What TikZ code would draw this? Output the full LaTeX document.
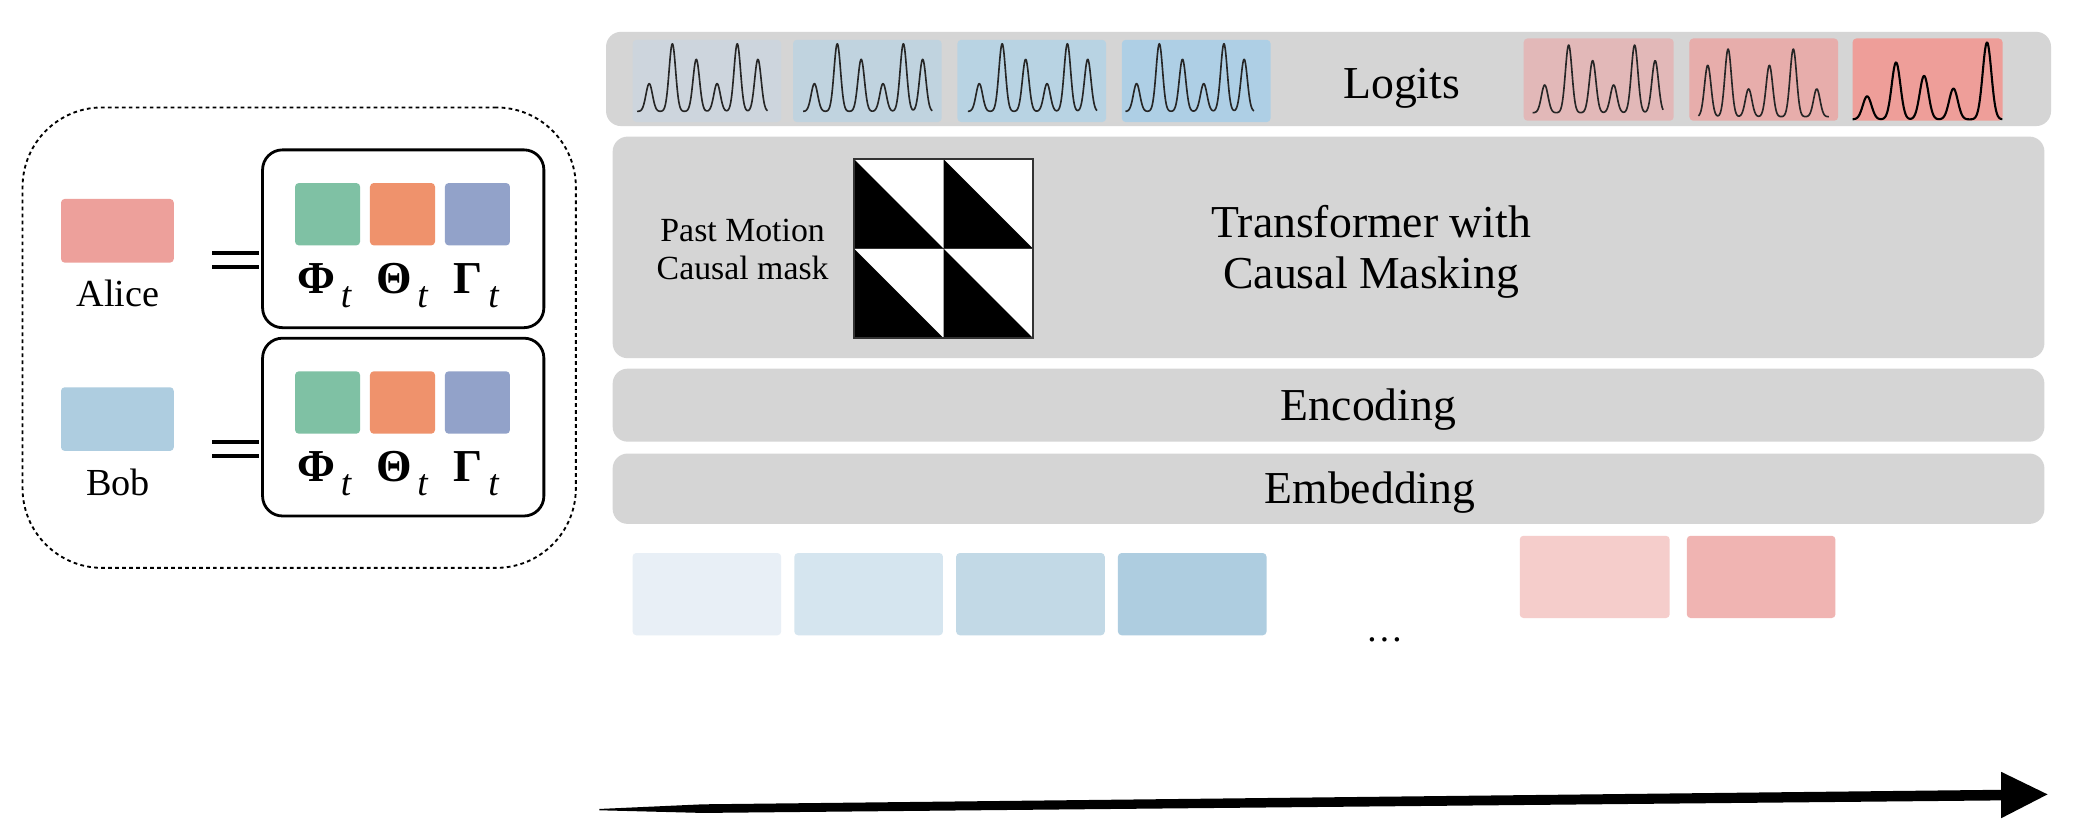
\documentclass[tikz,border=0pt]{standalone}
\usepackage{fontspec}
\setmainfont{Liberation Serif}
\definecolor{layergray}{HTML}{D5D5D5}
\definecolor{alicec}{HTML}{EDA09B}
\definecolor{bobc}{HTML}{AECDE0}
\definecolor{phic}{HTML}{7FC1A4}
\definecolor{thetac}{HTML}{EF926C}
\definecolor{gammac}{HTML}{92A2C9}
\definecolor{lgA}{HTML}{CDD5DD}
\definecolor{lgB}{HTML}{C0D3DF}
\definecolor{lgC}{HTML}{B8D3E3}
\definecolor{lgD}{HTML}{AECFE5}
\definecolor{lgE}{HTML}{E2B8B8}
\definecolor{lgF}{HTML}{E7ADAB}
\definecolor{lgG}{HTML}{EE9E99}
\definecolor{emA}{HTML}{E8EFF6}
\definecolor{emB}{HTML}{D5E5EF}
\definecolor{emC}{HTML}{C2D9E6}
\definecolor{emD}{HTML}{AECDE0}
\definecolor{emE}{HTML}{F5CDCB}
\definecolor{emF}{HTML}{F0B4B2}
\newcommand\greek[1]{{\fontsize{9.8}{10}\selectfont\bfseries #1}\hspace{1.2pt}\raisebox{-3.1pt}{\fontsize{8}{9}\selectfont\itshape t}}
\begin{document}
\begin{tikzpicture}[x=0.01cm,y=-0.01cm,
  declare function={pk(\xx,\cc,\hh,\ww)=\hh*exp(-min(((\xx-\cc)/\ww)^2/2,15));},
  box/.style={anchor=north west, inner sep=0pt, outer sep=0pt},
  layerbox/.style={box, fill=layergray, rounded corners=3.2pt, minimum width=10.79cm},
  tile/.style={box, rounded corners=0.8pt},
  lgtile/.style={tile, minimum width=1.12cm, minimum height=0.62cm},
  emtile/.style={tile, minimum width=1.12cm, minimum height=0.62cm},
  sq/.style={tile, minimum width=0.49cm, minimum height=0.47cm},
  who/.style={tile, minimum width=0.85cm, minimum height=0.48cm},
  parambox/.style={box, draw=black, line width=0.6pt, rounded corners=0.15cm, minimum width=2.12cm, minimum height=1.34cm},
  eqline/.style={line width=0.85pt},
  peak/.style={line width=0.35pt, black!85, line join=round},
  bigtext/.style={font=\fontsize{9.8}{10.8}\selectfont, align=center},
  smalltext/.style={font=\fontsize{7.25}{8.25}\selectfont, align=center},
  nametext/.style={font=\fontsize{8.2}{9}\selectfont, anchor=base},
  greektext/.style={anchor=base west, inner sep=0pt}
]
\useasboundingbox (0,0) rectangle (1570,632);
\fill[white] (0,0) rectangle (1570,632);

% ---------- left panel ----------
\node[box, draw=black, line width=0.4pt, dash pattern=on 0.8pt off 0.7pt, rounded corners=0.6cm, minimum width=4.17cm, minimum height=3.47cm] (panel) at (17,81) {};

\node[who, fill=alicec] (alice) at (46,150) {};
\node[nametext] (alicelbl) at (89,231) {Alice};
\draw[eqline] (160,191) -- (195,191) (160,201.5) -- (195,201.5);
\node[parambox] (pA) at (198,113) {};
\node[sq, fill=phic] (phiA) at (222.5,138) {};
\node[sq, fill=thetac] (thA) at (279,138) {};
\node[sq, fill=gammac] (gaA) at (335.5,138) {};
\node[greektext] (phiAl) at (223.5,221) {\greek{Φ}};
\node[greektext] (thAl) at (283,221) {\greek{Θ}};
\node[greektext] (gaAl) at (341.5,221) {\greek{Γ}};

\node[who, fill=bobc] (bob) at (46,292) {};
\node[nametext] (boblbl) at (89,374) {Bob};
\draw[eqline] (160,333) -- (195,333) (160,343.5) -- (195,343.5);
\node[parambox] (pB) at (198,255) {};
\node[sq, fill=phic] (phiB) at (222.5,280) {};
\node[sq, fill=thetac] (thB) at (279,280) {};
\node[sq, fill=gammac] (gaB) at (335.5,280) {};
\node[greektext] (phiBl) at (223.5,363) {\greek{Φ}};
\node[greektext] (thBl) at (283,363) {\greek{Θ}};
\node[greektext] (gaBl) at (341.5,363) {\greek{Γ}};

% ---------- layers ----------
\node[layerbox, minimum width=10.89cm, minimum height=0.71cm] (logits) at (457,24) {};
\node[layerbox, minimum height=1.67cm] (trans) at (462,103) {};
\node[layerbox, minimum height=0.55cm] (enc) at (462,278) {};
\node[layerbox, minimum height=0.53cm] (emb) at (462,342) {};

\node[bigtext, anchor=base] (logitslbl) at (1057,74) {Logits};
\node[bigtext] (translbl) at (1034,190) {Transformer with\\Causal Masking};
\node[bigtext, anchor=base] (enclbl) at (1032,317) {Encoding};
\node[bigtext, anchor=base] (emblbl) at (1033,380) {Embedding};
\node[smalltext] (masklbl) at (560,188) {Past Motion\\Causal mask};

% ---------- causal mask ----------
\node[box, fill=white, minimum width=1.35cm, minimum height=1.35cm] (mask) at (644,120) {};
\foreach \cx/\cy in {644/120, 711.5/120, 644/187.5, 711.5/187.5}{
  \fill[black] (\cx,\cy) -- (\cx,\cy+67.5) -- (\cx+67.5,\cy+67.5) -- cycle;
}
\draw[black!80, line width=0.35pt] (644,187.5) -- (779,187.5);
\draw[black!80, line width=0.4pt] (mask.north west) rectangle (mask.south east);

% ---------- logits tiles ----------
\node[lgtile, fill=lgA] (lg1) at (477,30) {};
\node[lgtile, fill=lgB] (lg2) at (598,30) {};
\node[lgtile, fill=lgC] (lg3) at (722,30) {};
\node[lgtile, fill=lgD] (lg4) at (846,30) {};
\node[lgtile, fill=lgE, minimum width=1.13cm] (lg5) at (1149,29) {};
\node[lgtile, fill=lgF, minimum width=1.12cm] (lg6) at (1274,29) {};
\node[lgtile, fill=lgG, minimum width=1.13cm] (lg7) at (1397,29) {};

\draw[peak] plot[domain=0.03:0.91, samples=300] ({477+112*\x},{84-51*(pk(\x,0.112,0.41,0.022)+pk(\x,0.268,1,0.022)+pk(\x,0.429,0.77,0.022)+pk(\x,0.569,0.41,0.022)+pk(\x,0.705,1,0.022)+pk(\x,0.844,0.77,0.022))});
\draw[peak] plot[domain=0.068:0.938, samples=300] ({598+112*\x},{84-51*(pk(\x,0.144,0.41,0.022)+pk(\x,0.298,1,0.022)+pk(\x,0.459,0.77,0.022)+pk(\x,0.606,0.41,0.022)+pk(\x,0.743,1,0.022)+pk(\x,0.873,0.77,0.022))});
\draw[peak] plot[domain=0.07:0.94, samples=300] ({722+112*\x},{84-51*(pk(\x,0.147,0.41,0.022)+pk(\x,0.301,1,0.022)+pk(\x,0.459,0.77,0.022)+pk(\x,0.603,0.41,0.022)+pk(\x,0.74,1,0.022)+pk(\x,0.877,0.77,0.022))});
\draw[peak] plot[domain=0.024:0.89, samples=300] ({846+112*\x},{84-51*(pk(\x,0.099,0.41,0.022)+pk(\x,0.252,1,0.022)+pk(\x,0.408,0.77,0.022)+pk(\x,0.551,0.41,0.022)+pk(\x,0.687,1,0.022)+pk(\x,0.823,0.77,0.022))});
\draw[peak] plot[domain=0.06:0.93, samples=300] ({1149+113*\x},{85-51*(pk(\x,0.14,0.41,0.022)+pk(\x,0.30,1,0.022)+pk(\x,0.46,0.77,0.022)+pk(\x,0.60,0.41,0.022)+pk(\x,0.74,1,0.022)+pk(\x,0.877,0.77,0.022))});
\draw[peak] plot[domain=0.06:0.94, samples=300] ({1274+112*\x},{88-51*(pk(\x,0.123,0.76,0.022)+pk(\x,0.26,1,0.022)+pk(\x,0.398,0.41,0.022)+pk(\x,0.538,0.76,0.022)+pk(\x,0.699,1,0.022)+pk(\x,0.857,0.41,0.022))});
\draw[peak, line width=0.45pt, black] plot[domain=0:1, samples=300] ({1397+113*\x},{90-58*(pk(\x,0.097,0.30,0.029)+pk(\x,0.29,0.74,0.029)+pk(\x,0.477,0.565,0.029)+pk(\x,0.673,0.40,0.029)+pk(\x,0.897,1,0.029))});

% ---------- embedding tiles ----------
\node[emtile, fill=emA] (em1) at (477,417) {};
\node[emtile, fill=emB] (em2) at (599,417) {};
\node[emtile, fill=emC] (em3) at (721,417) {};
\node[emtile, fill=emD] (em4) at (843,417) {};
\node[emtile, fill=emE, minimum width=1.13cm] (em5) at (1146,404) {};
\node[emtile, fill=emF] (em6) at (1272,404) {};
\node[font=\fontsize{8}{9}\selectfont, anchor=base] (dots) at (1044,484) {…};

% ---------- time arrow ----------
\coordinate (tstart) at (452,610);
\coordinate (tend) at (1544,599);
\fill[black] (tstart) -- (530,606.5) -- (1513,595.5) -- (1513,603.5) -- (530,613) -- (452,611) -- cycle;
\fill[black] (1509,582) -- (tend) -- (1509,617) -- cycle;
\end{tikzpicture}
\end{document}
